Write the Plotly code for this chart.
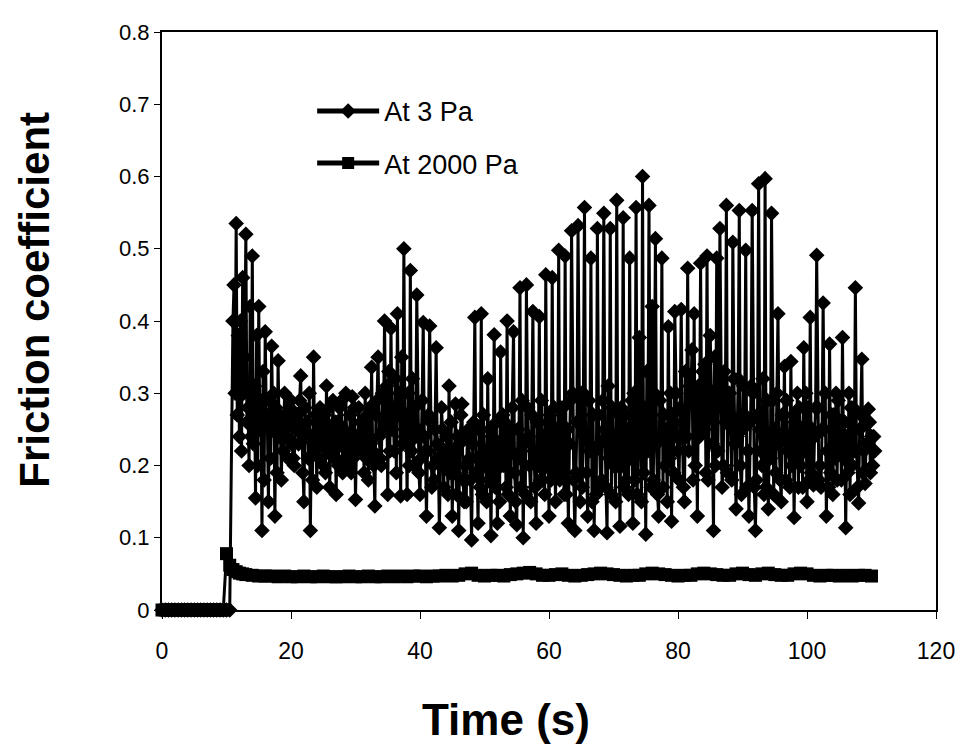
import plotly.graph_objects as go

# ---------------- data ----------------
# At 3 Pa : zero until 10.5 s (0.5 s steps), then three readings per 0.5 s
f3_zero = [0.0] * 22  # 0.0 .. 10.5 s
# readings on the half-second marks (11.0 .. 110.5 s)
f3_a = [0.40, 0.535, 0.24, 0.46, 0.52, 0.20, 0.49, 0.155, 0.42, 0.11,
        0.385, 0.15, 0.365, 0.13, 0.345, 0.18, 0.30, 0.21, 0.29, 0.20]
f3_b = [0.27, 0.324, 0.15, 0.26, 0.11, 0.35, 0.17, 0.28, 0.20, 0.31,
        0.17, 0.29, 0.16, 0.28, 0.19, 0.30, 0.20, 0.295, 0.153, 0.28]
f3_c = [0.22, 0.30, 0.18, 0.336, 0.144, 0.35, 0.20, 0.40, 0.16, 0.39,
        0.22, 0.41, 0.158, 0.50, 0.16, 0.47, 0.20, 0.436, 0.16, 0.398]
f3_d = [0.13, 0.393, 0.20, 0.363, 0.114, 0.25, 0.20, 0.31, 0.13, 0.285,
        0.11, 0.285, 0.20, 0.25, 0.097, 0.405, 0.12, 0.41, 0.20, 0.32]
f3_e = [0.103, 0.381, 0.12, 0.357, 0.20, 0.40, 0.13, 0.385, 0.118, 0.446,
        0.10, 0.45, 0.20, 0.413, 0.12, 0.406, 0.18, 0.464, 0.13, 0.46]
f3_f = [0.15, 0.498, 0.20, 0.49, 0.12, 0.525, 0.11, 0.532, 0.30, 0.557,
        0.13, 0.487, 0.11, 0.528, 0.17, 0.549, 0.107, 0.528, 0.20, 0.567]
f3_g = [0.116, 0.543, 0.18, 0.487, 0.12, 0.557, 0.377, 0.60, 0.105, 0.56,
        0.42, 0.514, 0.13, 0.487, 0.20, 0.392, 0.123, 0.413, 0.22, 0.416]
f3_h = [0.15, 0.473, 0.30, 0.41, 0.13, 0.48, 0.25, 0.49, 0.38, 0.11,
        0.487, 0.528, 0.20, 0.56, 0.30, 0.509, 0.14, 0.553, 0.25, 0.498]
f3_i = [0.13, 0.553, 0.11, 0.59, 0.20, 0.597, 0.14, 0.549, 0.25, 0.41,
        0.15, 0.337, 0.22, 0.344, 0.128, 0.30, 0.20, 0.363, 0.15, 0.405]
f3_j = [0.173, 0.491, 0.20, 0.425, 0.13, 0.368, 0.16, 0.30, 0.22, 0.377,
        0.114, 0.30, 0.20, 0.446, 0.148, 0.347, 0.175, 0.278, 0.24, 0.22]
# second reading in each half-second slot
f3_a_mid = [0.45, 0.27, 0.40, 0.30, 0.26, 0.42, 0.23, 0.38, 0.25, 0.33,
            0.27, 0.29, 0.25, 0.28, 0.24, 0.26, 0.25, 0.27, 0.23, 0.26]
f3_b_mid = [0.23, 0.25, 0.28, 0.21, 0.24, 0.22, 0.26, 0.23, 0.27, 0.22,
            0.25, 0.21, 0.26, 0.23, 0.25, 0.22, 0.27, 0.21, 0.24, 0.23]
f3_c_mid = [0.26, 0.21, 0.28, 0.22, 0.27, 0.24, 0.30, 0.26, 0.33, 0.25,
            0.32, 0.27, 0.35, 0.24, 0.30, 0.22, 0.28, 0.25, 0.21, 0.24]
f3_d_mid = [0.22, 0.26, 0.18, 0.23, 0.20, 0.17, 0.24, 0.19, 0.22, 0.16,
            0.23, 0.18, 0.15, 0.21, 0.23, 0.19, 0.25, 0.16, 0.22, 0.18]
f3_e_mid = [0.24, 0.17, 0.23, 0.20, 0.26, 0.16, 0.22, 0.19, 0.25, 0.17,
            0.23, 0.28, 0.15, 0.22, 0.26, 0.18, 0.24, 0.20, 0.27, 0.19]
f3_f_mid = [0.25, 0.18, 0.28, 0.16, 0.23, 0.30, 0.19, 0.26, 0.17, 0.24,
            0.29, 0.15, 0.22, 0.27, 0.18, 0.25, 0.31, 0.16, 0.24, 0.20]
f3_g_mid = [0.28, 0.17, 0.25, 0.21, 0.30, 0.16, 0.24, 0.19, 0.33, 0.26,
            0.18, 0.23, 0.29, 0.17, 0.25, 0.21, 0.27, 0.30, 0.18, 0.26]
f3_h_mid = [0.33, 0.22, 0.36, 0.20, 0.31, 0.26, 0.34, 0.18, 0.30, 0.35,
            0.22, 0.28, 0.33, 0.19, 0.27, 0.32, 0.24, 0.20, 0.31, 0.17]
f3_i_mid = [0.26, 0.30, 0.18, 0.25, 0.32, 0.17, 0.24, 0.29, 0.19, 0.23,
            0.27, 0.18, 0.24, 0.20, 0.26, 0.17, 0.25, 0.22, 0.28, 0.19]
f3_j_mid = [0.24, 0.28, 0.17, 0.25, 0.22, 0.19, 0.27, 0.18, 0.26, 0.21,
            0.24, 0.16, 0.28, 0.22, 0.25, 0.19, 0.23, 0.26, 0.20]
# third reading in each half-second slot
f3_a_ext = [0.30, 0.38, 0.22, 0.35, 0.28, 0.24, 0.31, 0.20, 0.29, 0.18,
            0.26, 0.21, 0.30, 0.19, 0.27, 0.22, 0.24, 0.28, 0.21, 0.25]
f3_b_ext = [0.29, 0.19, 0.24, 0.30, 0.18, 0.27, 0.21, 0.25, 0.19, 0.28,
            0.22, 0.26, 0.20, 0.29, 0.21, 0.24, 0.19, 0.28, 0.22, 0.26]
f3_c_ext = [0.19, 0.27, 0.23, 0.20, 0.29, 0.21, 0.25, 0.31, 0.22, 0.28,
            0.19, 0.30, 0.23, 0.27, 0.20, 0.32, 0.24, 0.19, 0.29, 0.22]
f3_d_ext = [0.27, 0.17, 0.25, 0.21, 0.28, 0.22, 0.16, 0.26, 0.19, 0.24,
            0.27, 0.15, 0.24, 0.18, 0.26, 0.21, 0.17, 0.27, 0.15, 0.25]
f3_e_ext = [0.18, 0.26, 0.15, 0.27, 0.17, 0.25, 0.28, 0.15, 0.21, 0.29,
            0.16, 0.24, 0.27, 0.17, 0.20, 0.29, 0.16, 0.26, 0.18, 0.28]
f3_f_ext = [0.19, 0.28, 0.16, 0.25, 0.29, 0.18, 0.26, 0.15, 0.30, 0.19,
            0.22, 0.27, 0.16, 0.23, 0.29, 0.17, 0.21, 0.28, 0.15, 0.27]
f3_g_ext = [0.20, 0.27, 0.16, 0.29, 0.18, 0.25, 0.15, 0.28, 0.22, 0.17,
            0.30, 0.16, 0.24, 0.27, 0.15, 0.30, 0.19, 0.24, 0.28, 0.17]
f3_h_ext = [0.24, 0.31, 0.18, 0.29, 0.24, 0.33, 0.19, 0.30, 0.23, 0.20,
            0.31, 0.17, 0.26, 0.30, 0.18, 0.23, 0.32, 0.16, 0.27, 0.22]
f3_i_ext = [0.31, 0.17, 0.27, 0.22, 0.16, 0.29, 0.21, 0.16, 0.30, 0.18,
            0.24, 0.29, 0.17, 0.27, 0.21, 0.28, 0.17, 0.30, 0.18, 0.25]
f3_j_ext = [0.28, 0.18, 0.25, 0.30, 0.17, 0.27, 0.21, 0.29, 0.18, 0.26,
            0.19, 0.28, 0.22, 0.17, 0.27, 0.22, 0.26, 0.19, 0.24]

f3_main = f3_a + f3_b + f3_c + f3_d + f3_e + f3_f + f3_g + f3_h + f3_i + f3_j
f3_mid = (f3_a_mid + f3_b_mid + f3_c_mid + f3_d_mid + f3_e_mid +
          f3_f_mid + f3_g_mid + f3_h_mid + f3_i_mid + f3_j_mid)
f3_ext = (f3_a_ext + f3_b_ext + f3_c_ext + f3_d_ext + f3_e_ext +
          f3_f_ext + f3_g_ext + f3_h_ext + f3_i_ext + f3_j_ext)

time_3pa = [i * 0.5 for i in range(len(f3_zero))]
friction_3pa = list(f3_zero)
for k, v in enumerate(f3_main):
    t0 = 11.0 + 0.5 * k
    time_3pa.append(t0)
    friction_3pa.append(v)
    if k < len(f3_mid):
        time_3pa.append(t0 + 0.5 / 3)
        friction_3pa.append(f3_mid[k])
        time_3pa.append(t0 + 1.0 / 3)
        friction_3pa.append(f3_ext[k])

# At 2000 Pa : 0.5 s sampling up to 13 s, then 1 s sampling up to 110 s
time_2000_start = [i * 0.5 for i in range(27)]          # 0 .. 13 s
f2_start = [0.0] * 20 + [0.078, 0.062, 0.056, 0.053, 0.051, 0.050, 0.049]
time_2000_rest = [float(t) for t in range(14, 111)]     # 14 .. 110 s
f2_rest = [0.048, 0.047, 0.047, 0.047, 0.046, 0.047, 0.046, 0.046, 0.047, 0.046,
           0.046, 0.047, 0.046, 0.046, 0.046, 0.047, 0.046, 0.046, 0.047, 0.046,
           0.046, 0.047, 0.046, 0.047, 0.046, 0.047, 0.047, 0.046, 0.047, 0.047,
           0.048, 0.047, 0.048, 0.050, 0.051, 0.048, 0.047, 0.048, 0.048, 0.047,
           0.049, 0.050, 0.051, 0.052, 0.050, 0.048, 0.048, 0.049, 0.050, 0.048,
           0.047, 0.048, 0.049, 0.050, 0.051, 0.050, 0.049, 0.048, 0.047, 0.048,
           0.048, 0.050, 0.051, 0.050, 0.049, 0.048, 0.047, 0.048, 0.048, 0.050,
           0.051, 0.050, 0.049, 0.048, 0.048, 0.050, 0.051, 0.049, 0.048, 0.050,
           0.051, 0.049, 0.048, 0.048, 0.050, 0.051, 0.050, 0.048, 0.047, 0.048,
           0.048, 0.047, 0.048, 0.047, 0.048, 0.048, 0.047]
time_2000 = time_2000_start + time_2000_rest
friction_2000pa = f2_start + f2_rest

x_ticks = [0, 20, 40, 60, 80, 100, 120]
y_ticks = [0, 0.1, 0.2, 0.3, 0.4, 0.5, 0.6, 0.7, 0.8]
y_tick_labels = ["0", "0.1", "0.2", "0.3", "0.4", "0.5", "0.6", "0.7", "0.8"]

# ---------------- figure ----------------
FONT = "Liberation Sans, Arial, sans-serif"

fig = go.Figure()
fig.add_trace(go.Scatter(
    x=time_3pa, y=friction_3pa, name="At 3 Pa", mode="lines+markers",
    legendgroup="a",
    line=dict(color="black", width=3),
    marker=dict(symbol="diamond", size=12, color="black"),
    cliponaxis=False,
))
fig.add_trace(go.Scatter(
    x=time_2000, y=friction_2000pa, name="At 2000 Pa", mode="lines+markers",
    legendgroup="b",
    line=dict(color="black", width=3),
    marker=dict(symbol="square", size=13, color="black"),
    cliponaxis=False,
))

fig.update_layout(
    width=968, height=756,
    margin=dict(l=154, r=40, t=19, b=154),
    paper_bgcolor="white", plot_bgcolor="white",
    font=dict(family=FONT, color="black", size=22),
    showlegend=True,
    legend=dict(
        x=0.194, y=0.905, xanchor="left", yanchor="top",
        bgcolor="rgba(0,0,0,0)", borderwidth=0,
        font=dict(size=27, family=FONT), itemwidth=62,
        tracegroupgap=14,
        itemsizing="constant",
    ),
    xaxis=dict(
        range=[0, 120], tickvals=x_ticks, ticktext=[str(v) for v in x_ticks],
        showgrid=False, zeroline=False,
        showline=True, linecolor="black", linewidth=2, mirror=True,
        ticks="outside", ticklen=7, tickwidth=1, tickcolor="black",
        tickfont=dict(size=23, family=FONT), ticklabelstandoff=12,
    ),
    yaxis=dict(
        range=[0, 0.8], tickvals=y_ticks, ticktext=y_tick_labels,
        showgrid=False, zeroline=False,
        showline=True, linecolor="black", linewidth=2, mirror=True,
        ticks="outside", ticklen=6, tickwidth=1, tickcolor="black",
        tickfont=dict(size=22, family=FONT),
    ),
    annotations=[
        dict(text="<b>Time (s)</b>", xref="paper", yref="paper",
             x=0.444, y=-0.189, xanchor="center", yanchor="middle",
             showarrow=False, font=dict(size=44, family=FONT, color="black")),
        dict(text="<b>Friction coefficient</b>", xref="paper", yref="paper",
             x=-0.164, y=0.537, xanchor="center", yanchor="middle", textangle=-90,
             showarrow=False, font=dict(size=42, family=FONT, color="black")),
    ],
)

fig.write_html("out.html")
